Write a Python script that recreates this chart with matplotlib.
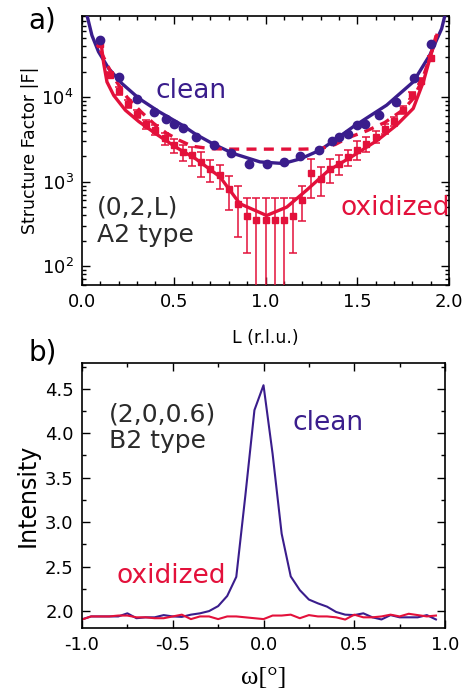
import numpy as np
import matplotlib.pyplot as plt
from matplotlib.ticker import MultipleLocator, LogLocator, NullFormatter

plt.rcParams['font.family'] = ['DejaVu Sans']
plt.rcParams['axes.unicode_minus'] = False

blue = '#3a1d8c'
red = '#e3113b'
dark = '#2b2b2b'

# ---- panel a: structure factor along (0,2,L)
L_clean = [0.10, 0.20, 0.30, 0.39, 0.46, 0.50, 0.55, 0.62, 0.72, 0.81, 0.91, 1.01, 1.10, 1.19,
           1.29, 1.36, 1.40, 1.45, 1.50, 1.54, 1.62, 1.71, 1.81, 1.90]
F_clean = [48000, 17100, 9400, 6700, 5500, 4800, 4340, 3390, 2690, 2160, 1640, 1610, 1710, 2020,
           2400, 3040, 3390, 3710, 4620, 4830, 6070, 8720, 16800, 43000]

L_ox = [0.10, 0.15, 0.20, 0.25, 0.30, 0.35, 0.40, 0.45, 0.50, 0.55, 0.60, 0.65, 0.70, 0.75,
        0.80, 0.85, 0.90, 0.95, 1.00, 1.05, 1.10, 1.15, 1.20, 1.25, 1.30, 1.35, 1.40, 1.45,
        1.50, 1.55, 1.60, 1.65, 1.70, 1.75, 1.80, 1.85, 1.90]
F_ox = [43000, 18500, 11800, 8400, 6300, 4800, 4070, 3250, 2700, 2250, 2050, 1700, 1400, 1190,
        810, 552, 394, 350, 350, 350, 350, 394, 615, 1250, 1090, 1400, 1640, 1960,
        2400, 2800, 3400, 4250, 5200, 7000, 10500, 15600, 28700]
F_ox_err = [3000, 1500, 1200, 900, 700, 600, 550, 500, 500, 500, 500, 550, 420, 380,
            350, 330, 250, 295, 295, 295, 295, 250, 270, 600, 420, 430, 450, 420,
            600, 550, 550, 600, 650, 750, 900, 1200, 2000]

# fitted curves
L_fit_clean = [0.027, 0.054, 0.09, 0.145, 0.218, 0.31, 0.418, 0.545, 0.62, 0.72, 0.825, 0.97,
               1.097, 1.19, 1.297, 1.342, 1.478, 1.66, 1.805, 1.896, 1.96, 1.978]
logF_fit_clean = [4.97, 4.73, 4.536, 4.34, 4.16, 3.985, 3.83, 3.67, 3.56, 3.44, 3.333, 3.234,
                  3.215, 3.27, 3.373, 3.44, 3.65, 3.905, 4.18, 4.50, 4.81, 4.97]

L_fit_ox = [0.105, 0.118, 0.136, 0.173, 0.236, 0.31, 0.40, 0.51, 0.62, 0.752, 0.86, 1.006,
            1.116, 1.224, 1.342, 1.48, 1.61, 1.715, 1.805, 1.86, 1.896, 1.933]
logF_fit_ox = [4.62, 4.40, 4.18, 4.02, 3.846, 3.71, 3.57, 3.41, 3.27, 3.057, 2.74, 2.60,
               2.70, 2.90, 3.13, 3.31, 3.49, 3.67, 3.866, 4.18, 4.46, 4.73]

L_fit_ox2 = [0.10, 0.17, 0.245, 0.32, 0.39, 0.46, 0.53, 0.60, 0.70, 0.80, 0.90, 1.00, 1.10,
             1.20, 1.30, 1.38, 1.45, 1.55, 1.65, 1.75, 1.80, 1.85, 1.90, 1.93]
logF_fit_ox2 = [4.55, 4.24, 4.00, 3.83, 3.69, 3.574, 3.49, 3.42, 3.39, 3.385, 3.385, 3.385, 3.385,
                3.385, 3.39, 3.44, 3.52, 3.60, 3.70, 3.85, 3.97, 4.18, 4.50, 4.73]

# ---- panel b: omega scan at (2,0,0.6)
omega = np.round(np.arange(-1.0, 0.96, 0.05), 2)
I_clean = [1.907, 1.94, 1.94, 1.94, 1.94, 1.975, 1.92, 1.93, 1.93, 1.955, 1.94, 1.935, 1.96,
           1.975, 2.00, 2.056, 2.17, 2.385, 3.30, 4.26, 4.54, 3.77, 2.87, 2.39, 2.236, 2.13,
           2.087, 2.05, 1.99, 1.96, 1.955, 1.975, 1.93, 1.906, 1.955, 1.93, 1.93, 1.93, 1.955,
           1.906]
I_ox = [1.906, 1.94, 1.94, 1.94, 1.95, 1.95, 1.93, 1.93, 1.92, 1.92, 1.94, 1.96, 1.91, 1.94,
        1.94, 1.91, 1.94, 1.94, 1.93, 1.92, 1.91, 1.95, 1.95, 1.96, 1.92, 1.955, 1.94, 1.94,
        1.93, 1.905, 1.96, 1.93, 1.93, 1.94, 1.96, 1.94, 1.97, 1.955, 1.94, 1.95]

fig = plt.figure(figsize=(4.67, 6.93), dpi=100)
ax1 = fig.add_axes([0.1756, 0.5887, 0.9615 - 0.1756, 0.9769 - 0.5887])
ax2 = fig.add_axes([0.1756, 0.0938, 0.9529 - 0.1756, 0.4762 - 0.0938])

ax1.plot(L_fit_clean, 10 ** np.array(logF_fit_clean), color=blue, lw=2.4, zorder=3)
ax1.plot(L_fit_ox, 10 ** np.array(logF_fit_ox), color=red, lw=2.4, zorder=3)
ax1.plot(L_fit_ox2, 10 ** np.array(logF_fit_ox2), color=red, lw=2.4, ls=(0, (3, 2.2)), zorder=3)
ax1.errorbar(L_ox, F_ox, yerr=F_ox_err, fmt='s', color=red, ms=5, capsize=3, elinewidth=1.1,
             capthick=1.1, zorder=4)
ax1.plot(L_clean, F_clean, 'o', color=blue, ms=6, zorder=5)

ax1.set_yscale('log')
ax1.set_xlim(0, 2.0)
ax1.set_ylim(60, 9.1e4)
ax1.xaxis.set_major_locator(MultipleLocator(0.5))
ax1.xaxis.set_minor_locator(MultipleLocator(0.1))
ax1.yaxis.set_major_locator(LogLocator(base=10, numticks=10))
ax1.yaxis.set_minor_locator(LogLocator(base=10, subs=np.arange(2, 10), numticks=10))
ax1.yaxis.set_minor_formatter(NullFormatter())
ax1.set_xlabel('L (r.l.u.)', fontsize=12.5, labelpad=13)
ax1.set_ylabel('Structure Factor |F|', fontsize=12.5, labelpad=2)
ax1.text(0.20, 0.695, 'clean', transform=ax1.transAxes, color=blue, fontsize=19)
ax1.text(0.703, 0.26, 'oxidized', transform=ax1.transAxes, color=red, fontsize=19)
ax1.text(0.041, 0.264, '(0,2,L)', transform=ax1.transAxes, color=dark, fontsize=18)
ax1.text(0.041, 0.16, 'A2 type', transform=ax1.transAxes, color=dark, fontsize=18)

ax2.plot(omega, I_clean, color=blue, lw=1.5)
ax2.plot(omega, I_ox, color=red, lw=1.5)
ax2.set_xlim(-1.0, 1.0)
ax2.set_ylim(1.81, 4.79)
ax2.xaxis.set_major_locator(MultipleLocator(0.5))
ax2.xaxis.set_minor_locator(MultipleLocator(0.25))
ax2.yaxis.set_major_locator(MultipleLocator(0.5))
ax2.yaxis.set_minor_locator(MultipleLocator(0.25))
ax2.set_xlabel('ω[°]', fontsize=19, family=['Liberation Serif', 'DejaVu Serif'], labelpad=9)
ax2.set_ylabel('Intensity', fontsize=17, labelpad=4)
ax2.text(0.579, 0.747, 'clean', transform=ax2.transAxes, color=blue, fontsize=19)
ax2.text(0.096, 0.17, 'oxidized', transform=ax2.transAxes, color=red, fontsize=19)
ax2.text(0.074, 0.781, '(2,0,0.6)', transform=ax2.transAxes, color=dark, fontsize=18)
ax2.text(0.074, 0.679, 'B2 type', transform=ax2.transAxes, color=dark, fontsize=18)

for ax in (ax1, ax2):
    ax.tick_params(which='both', direction='in', top=True, right=True, labelsize=13, width=1)
    ax.tick_params(which='major', length=6, pad=6)
    ax.tick_params(which='minor', length=3)
    for s in ax.spines.values():
        s.set_linewidth(1.2)

fig.text(0.06, 0.99, 'a)', fontsize=20, va='top')
fig.text(0.06, 0.512, 'b)', fontsize=20, va='top')

fig.savefig('out.png', dpi=100)
